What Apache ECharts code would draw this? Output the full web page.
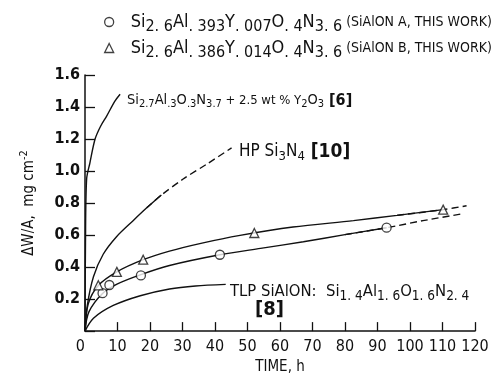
<!DOCTYPE html>
<html><head><meta charset="utf-8">
<script src="https://cdn.jsdelivr.net/npm/echarts@6/dist/echarts.min.js"></script>
<style>html,body{margin:0;padding:0;background:#fff}#c{width:498px;height:380px}</style>
</head><body><div id="c"></div>
<script>
// ---- data (time h, dW/A mg cm^-2) ----
const xMin = 0, xMax = 120, xStep = 10;
const yMin = 0, yMax = 1.6, yStep = 0.2;

const pointsA = [[5.4,0.237],[7.5,0.288],[17.2,0.348],[41.5,0.477],[92.8,0.646]];
const pointsB = [[4.1,0.286],[9.8,0.37],[17.9,0.446],[52.1,0.613],[110.2,0.759]];

const curveA = [[0,0],[1.2,0.12],[5.4,0.235],[10,0.295],[17.2,0.353],[26,0.41],[41.5,0.477],[54,0.517],[67.2,0.558],[80,0.603],[92.8,0.646]];
const curveAExt = [[80,0.603],[92.8,0.646],[104,0.69],[115.9,0.732]];

const curveB = [[0,0],[1,0.17],[4.1,0.285],[9.8,0.37],[17.9,0.446],[26,0.5],[36,0.55],[47.7,0.598],[64,0.65],[82.6,0.69],[96,0.723],[110.2,0.759]];
const curveBExt = [[96,0.723],[110.2,0.759],[117.4,0.783]];

const curveTLP = [[0,0],[2.6,0.08],[8.7,0.16],[17,0.221],[26,0.263],[34,0.282],[43.3,0.292]];

const curveHP = [[0,0],[0.7,0.16],[2.6,0.34],[5.6,0.48],[9.7,0.59],[14.8,0.69],[19,0.77],[23.5,0.85]];
const curveHPExt = [[19,0.77],[23.5,0.85],[30.2,0.95],[38,1.05],[45.1,1.145]];

const curveY2O3 = [[0,0],[0.15,0.55],[0.5,0.95],[1.5,1.05],[3.1,1.2],[4.8,1.28],[6.7,1.345],[9.2,1.437],[10.8,1.48]];

const legendA = '{m|Si}{s|2. 6}{m|Al}{s|. 393}{m|Y}{s|. 007}{m|O}{s|. 4}{m|N}{s|3. 6}{p| (SiAlON A, THIS WORK)}';
const legendB = '{m|Si}{s|2. 6}{m|Al}{s|. 386}{m|Y}{s|. 014}{m|O}{s|. 4}{m|N}{s|3. 6}{p| (SiAlON B, THIS WORK)}';
const noteY2O3 = '{m|Si}{s|2.7}{m|Al}{s|.3}{m|O}{s|.3}{m|N}{s|3.7}{t| + 2.5 wt % Y}{s|2}{m|O}{s|3}{b| [6]}';
const noteHP = '{m|HP Si}{s|3}{m|N}{s|4}{b| [10]}';
const noteTLP = '{m|TLP SiAlON:  Si}{s|1. 4}{m|Al}{s|1. 6}{m|O}{s|1. 6}{m|N}{s|2. 4}';
const noteTLPref = '[8]';
const xName = 'TIME, h';

const FONT = "'DejaVu Sans Condensed',sans-serif";
const NARROW = "'Liberation Sans Narrow','DejaVu Sans Condensed',sans-serif";
function rich(main, sub, ref, fam, paren) {
  return {
    m: {fontFamily: fam, fontSize: main, lineHeight: main + 1, color:'#111'},
    t: {fontFamily: fam, fontSize: main - 1.5, lineHeight: main + 1, color:'#111'},
    s: {fontFamily: fam, fontSize: sub, lineHeight: sub, padding:[Math.round(main*0.55),0,0,0], color:'#111'},
    p: {fontFamily: fam, fontSize: paren || main, lineHeight: main + 1, color:'#111'},
    b: {fontFamily: fam, fontSize: ref, fontWeight: 'bold', lineHeight: ref + 1, color:'#111'}
  };
}

const chart = echarts.init(document.getElementById('c'), null, {renderer:'canvas'});
const lineBase = {type:'line', showSymbol:false, symbol:'none', smooth:0.3, silent:true,
  lineStyle:{color:'#111', width:1.4}, z:3};
const dashed = {color:'#111', width:1.4, type:[7,4]};
const hollow = {color:'#fff', borderColor:'#111', borderWidth:1.3};

chart.setOption({
  animation:false,
  backgroundColor:'#fff',
  grid:{left:85, right:23, top:75, bottom:44, containLabel:false},
  legend:{
    orient:'vertical', left:99, top:4, itemGap:0, itemWidth:9, itemHeight:9,
    data:[{name:'A', icon:'circle', itemStyle:hollow},{name:'B', icon:'triangle', itemStyle:hollow}],
    formatter: n => n === 'A' ? legendA : legendB,
    textStyle:{padding:[0,0,0,12], rich: rich(18, 16, 18, FONT, 14)}
  },
  xAxis:{
    type:'value', min:xMin, max:xMax, interval:xStep,
    axisLine:{show:true, onZero:false, lineStyle:{color:'#111', width:1.5}},
    axisTick:{show:true, inside:true, length:9, lineStyle:{color:'#111', width:1.3}},
    axisLabel:{color:'#111', fontFamily:FONT, fontSize:16, margin:8, alignMinLabel:'right'},
    splitLine:{show:false},
    name:xName, nameLocation:'middle', nameGap:28,
    nameTextStyle:{color:'#111', fontFamily:FONT, fontSize:15}
  },
  yAxis:{
    type:'value', min:yMin, max:yMax, interval:yStep,
    axisLine:{show:true, lineStyle:{color:'#111', width:1.5}},
    axisTick:{show:true, inside:true, length:10, lineStyle:{color:'#111', width:1.3}},
    axisLabel:{color:'#111', fontFamily:FONT, fontSize:16, fontWeight:'bold', margin:5,
      formatter: v => v === 0 ? '' : v.toFixed(1)},
    splitLine:{show:false},
    name:'{n|ΔW/A,  mg cm}{u|-2}', nameLocation:'middle', nameGap:47,
    nameTextStyle:{rich:{
      n:{fontFamily:FONT, fontSize:15, color:'#111', lineHeight:18},
      u:{fontFamily:FONT, fontSize:11, color:'#111', lineHeight:11, padding:[0,0,10,0]}
    }}
  },
  graphic:[
    {type:'text', left:127, top:91, style:{text:noteY2O3, rich:rich(14.5, 11, 16, NARROW), fill:'#111'}},
    {type:'text', left:239, top:141, style:{text:noteHP, rich:rich(17, 13, 19, FONT), fill:'#111'}},
    {type:'text', left:230, top:280, style:{text:noteTLP, rich:rich(16.5, 13.5, 18, FONT), fill:'#111'}},
    {type:'text', left:255, top:300, style:{text:noteTLPref, fill:'#111', font:"bold 20px "+FONT}}
  ],
  series:[
    Object.assign({}, lineBase, {name:'curveY2O3', data:curveY2O3}),
    Object.assign({}, lineBase, {name:'curveHP', data:curveHP}),
    Object.assign({}, lineBase, {name:'curveHPExt', data:curveHPExt, lineStyle:dashed, z:2}),
    Object.assign({}, lineBase, {name:'curveB', data:curveB}),
    Object.assign({}, lineBase, {name:'curveBExt', data:curveBExt, lineStyle:dashed, z:2}),
    Object.assign({}, lineBase, {name:'curveA', data:curveA}),
    Object.assign({}, lineBase, {name:'curveAExt', data:curveAExt, lineStyle:dashed, z:2}),
    Object.assign({}, lineBase, {name:'curveTLP', data:curveTLP}),
    {type:'scatter', name:'A', data:pointsA, symbol:'circle', symbolSize:9, z:5, itemStyle:hollow},
    {type:'scatter', name:'B', data:pointsB, symbol:'triangle', symbolSize:9, z:5, itemStyle:hollow}
  ]
});
</script></body></html>
